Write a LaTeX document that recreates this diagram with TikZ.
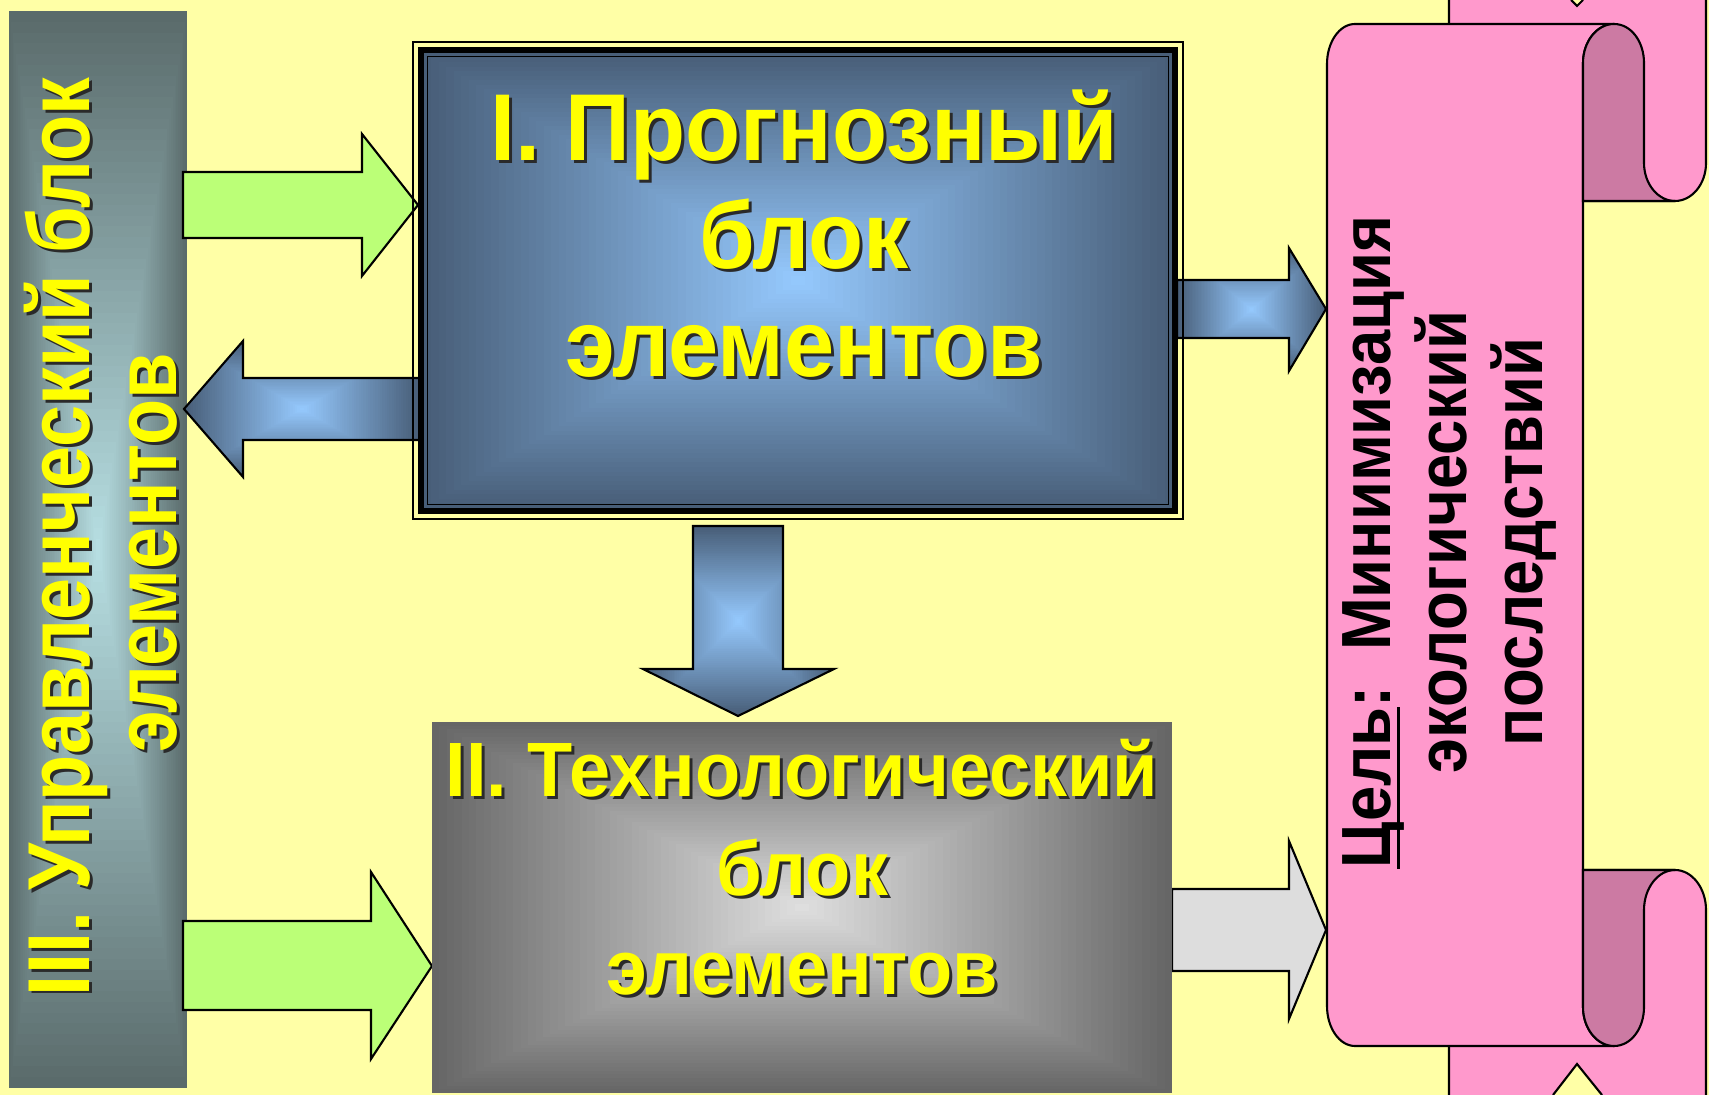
\documentclass[tikz,border=0pt]{standalone}
\usepackage{fontspec}
\setmainfont{Liberation Sans}
\definecolor{bg}{HTML}{FFFFA6}
\definecolor{pinkA}{HTML}{FF99CC}
\definecolor{pinkD}{HTML}{CC7AA3}
\definecolor{greenA}{HTML}{BBFF77}
\definecolor{grayA}{HTML}{DDDDDD}
\definecolor{ytxt}{HTML}{FFFF00}
\definecolor{shad}{HTML}{2A2A2A}
\definecolor{blueout}{HTML}{485E78}
\definecolor{bluein}{HTML}{96CAFF}
\definecolor{grayout}{HTML}{666666}
\definecolor{grayin}{HTML}{E0E0E0}
\definecolor{barout}{HTML}{5A6B6B}
\definecolor{barin}{HTML}{B8E0E4}
\newcommand\rgrad[6]{%
  \foreach \k in {0,...,50}{%
    \pgfmathsetmacro\gT{\k/100}%
    \pgfmathsetmacro\gP{2*\k}%
    \fill[fill=#6!\gP!#5] ({#1+\gT*(#3-#1)},{#2+\gT*(#4-#2)}) rectangle ({#3-\gT*(#3-#1)},{#4-\gT*(#4-#2)});
  }}
\newcommand\myul[1]{\setbox0\hbox{#1}\rlap{\rule[-2.6pt]{\wd0}{0.9pt}}\box0}
\begin{document}
\begin{tikzpicture}[x=0.01cm,y=-0.01cm,
  ol/.style={draw=black, line width=0.6pt, line join=miter},
  ytext/.style={text=ytxt, align=center, inner sep=0pt},
  stext/.style={text=shad, align=center, inner sep=0pt},
  btext/.style={text=black, align=center, inner sep=0pt},
  fbar/.style={font={\fontsize{25}{24.8}\selectfont\bfseries\addfontfeatures{FakeStretch=0.86}}},
  fone/.style={font={\fontsize{27}{30.7}\selectfont\bfseries\addfontfeatures{FakeStretch=0.95}}},
  ftwo/.style={font={\fontsize{21.9}{28.2}\selectfont\bfseries\addfontfeatures{FakeStretch=0.96}}},
  fgoal/.style={font={\fontsize{19.8}{21.6}\selectfont\bfseries\addfontfeatures{FakeStretch=0.91}}}]
\fill[bg] (0,0) rectangle (1709,1095);
\useasboundingbox (0,0) rectangle (1709,1095);

% ---- left bar ----
\rgrad{9}{11}{187}{1088}{barout}{barin}

% ---- scroll: back parts ----
\filldraw[fill=pinkA, ol] (1449,0) -- (1449,201) -- (1675,201) .. controls (1692,201) and (1706,184) .. (1706,163) -- (1706,0);
\filldraw[fill=pinkA, ol] (1449,1095) -- (1449,870) -- (1675,870) .. controls (1692,870) and (1706,888) .. (1706,910) -- (1706,1095);
\filldraw[fill=bg, ol] (1571,0) -- (1577,6) -- (1583,0);
\filldraw[fill=bg, ol] (1553,1095) -- (1577,1064) -- (1602,1095);
% front panel
\filldraw[fill=pinkA, ol] (1355,24) -- (1614,24) .. controls (1597,24) and (1583,41.5) .. (1583,63)
  -- (1583,1007) .. controls (1583,1028.5) and (1597,1046) .. (1614,1046)
  -- (1355,1046) .. controls (1339.5,1046) and (1327,1028) .. (1327,1006)
  -- (1327,64) .. controls (1327,42) and (1339.5,24) .. (1355,24) -- cycle;
% rolls
\filldraw[fill=pinkD, ol] (1583,63) .. controls (1583,41.5) and (1597,24) .. (1614,24)
  .. controls (1631,24) and (1644,41.5) .. (1644,63) -- (1644,163)
  .. controls (1644,184) and (1658,201) .. (1675,201) -- (1583,201) -- cycle;
\filldraw[fill=pinkD, ol] (1583,870) -- (1675,870) .. controls (1658,870) and (1644,888) .. (1644,910)
  -- (1644,1007) .. controls (1644,1028.5) and (1631,1046) .. (1614,1046)
  .. controls (1597,1046) and (1583,1028.5) .. (1583,1007) -- cycle;

% ---- arrows ----
\filldraw[fill=greenA, ol] (183,172) -- (362,172) -- (362,134) -- (418,205) -- (362,276) -- (362,238) -- (183,238) -- cycle;
\filldraw[fill=greenA, ol] (183,921) -- (371,921) -- (371,872) -- (432,966) -- (371,1059) -- (371,1010) -- (183,1010) -- cycle;
\filldraw[fill=grayA, ol] (1172,889) -- (1289,889) -- (1289,841) -- (1326,930) -- (1289,1019) -- (1289,971) -- (1172,971) -- cycle;
\begin{scope}
  \clip (420,378) -- (243,378) -- (243,341) -- (184,409) -- (243,477) -- (243,440) -- (420,440) -- cycle;
  \rgrad{184}{341}{420}{477}{blueout}{bluein}
\end{scope}
\draw[ol] (420,378) -- (243,378) -- (243,341) -- (184,409) -- (243,477) -- (243,440) -- (420,440) -- cycle;
\begin{scope}
  \clip (1177,280) -- (1289,280) -- (1289,248) -- (1326,309) -- (1289,371) -- (1289,338) -- (1177,338) -- cycle;
  \rgrad{1177}{248}{1326}{371}{blueout}{bluein}
\end{scope}
\draw[ol] (1177,280) -- (1289,280) -- (1289,248) -- (1326,309) -- (1289,371) -- (1289,338) -- (1177,338) -- cycle;
\begin{scope}
  \clip (693,526) -- (783,526) -- (783,669) -- (834,669) -- (738,716) -- (643,669) -- (693,669) -- cycle;
  \rgrad{643}{526}{834}{716}{blueout}{bluein}
\end{scope}
\draw[ol] (693,526) -- (783,526) -- (783,669) -- (834,669) -- (738,716) -- (643,669) -- (693,669) -- cycle;

% ---- block I ----
\draw[ol] (413,42) rectangle (1183,519);
\fill[black] (418,47) rectangle (1178,514);
\rgrad{424}{53}{1172}{508}{blueout}{bluein}
\draw[black, line width=0.4pt] (427.5,56.5) rectangle (1168.5,504.5);

% ---- block II ----
\rgrad{432}{722}{1172}{1093}{grayout}{grayin}

% ---- texts ----
\node[stext, rotate=90, fbar] (bartxts) at (104,540) {III. Управленческий блок\\элементов\hspace*{9pt}};
\node[ytext, rotate=90, fbar] (bartxt) at (101,537) {III. Управленческий блок\\элементов\hspace*{9pt}};
\node[stext, fone] (t1s) at (807,237) {I. Прогнозный\\блок\\элементов};
\node[ytext, fone] (t1) at (804,234) {I. Прогнозный\\блок\\элементов};
\node[stext, ftwo] (t2s) at (805,870) {II. Технологический\\блок\\элементов};
\node[ytext, ftwo] (t2) at (802,867) {II. Технологический\\блок\\элементов};
\node[btext, rotate=90, fgoal] (goal) at (1449.5,542) {\myul{Цель}:\ \ Минимизация\\экологический\\последствий};
\end{tikzpicture}
\end{document}
